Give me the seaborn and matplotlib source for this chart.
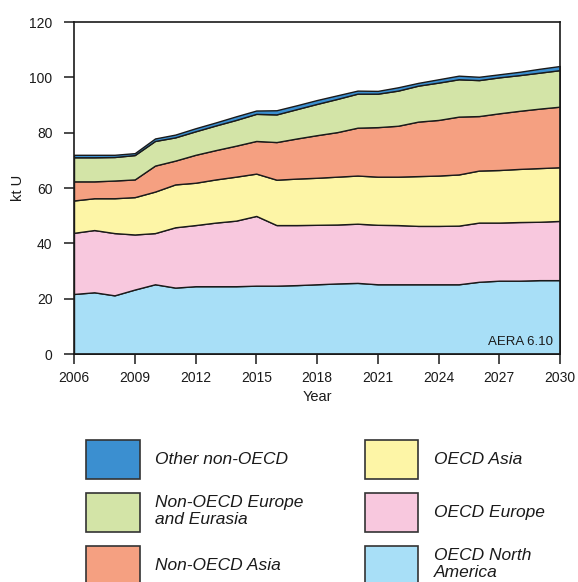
import matplotlib
matplotlib.use('Agg')
import matplotlib.pyplot as plt
from matplotlib.patches import Patch
import pandas as pd
import seaborn as sns

# Years on the x axis
years = list(range(2006, 2031))

# Requirements per region (kt U)
oecd_north_america = [21.7, 22.3, 21.2, 23.3, 25.2, 24.0, 24.5, 24.5, 24.5, 24.7,
                      24.7, 24.9, 25.2, 25.5, 25.7, 25.2, 25.2, 25.2, 25.2, 25.2,
                      26.1, 26.5, 26.5, 26.7, 26.7]
oecd_europe = [22.1, 22.5, 22.5, 19.9, 18.5, 21.8, 22.1, 23.0, 23.7, 25.2,
               21.9, 21.7, 21.5, 21.3, 21.4, 21.5, 21.4, 21.1, 21.1, 21.2,
               21.4, 21.0, 21.2, 21.1, 21.4]
oecd_asia = [11.7, 11.5, 12.6, 13.5, 15.0, 15.5, 15.3, 15.6, 15.9, 15.3,
             16.4, 16.8, 17.0, 17.3, 17.4, 17.4, 17.5, 18.0, 18.2, 18.5,
             18.8, 19.0, 19.2, 19.4, 19.4]
non_oecd_asia = [6.9, 6.1, 6.4, 6.4, 9.4, 8.6, 10.1, 10.6, 11.2, 11.8,
                 13.6, 14.5, 15.4, 16.1, 17.3, 17.9, 18.4, 19.7, 20.1, 20.9,
                 19.7, 20.5, 21.0, 21.5, 21.9]
non_oecd_europe = [8.7, 8.7, 8.5, 8.8, 8.9, 8.4, 8.5, 8.9, 9.3, 9.8,
                   10.0, 10.6, 11.3, 12.0, 12.3, 12.1, 12.7, 13.0, 13.5, 13.5,
                   13.0, 13.0, 12.9, 13.0, 13.2]
other_non_oecd = [0.9, 0.9, 0.8, 0.7, 0.9, 1.0, 1.1, 1.1, 1.3, 1.2,
                  1.5, 1.4, 1.4, 1.3, 1.1, 1.0, 1.2, 1.0, 1.2, 1.3,
                  1.2, 1.1, 1.2, 1.4, 1.5]

# stacking order, bottom to top
regions = ['OECD North America', 'OECD Europe', 'OECD Asia',
           'Non-OECD Asia', 'Non-OECD Europe and Eurasia', 'Other non-OECD']
colors = ['#a8dff7', '#f8c8de', '#fdf5a6', '#f5a081', '#d3e4a7', '#3b8fd0']

legend_order = ['Other non-OECD', 'Non-OECD Europe and Eurasia', 'Non-OECD Asia',
                'OECD Asia', 'OECD Europe', 'OECD North America']
legend_text = {
    'Other non-OECD': 'Other non-OECD',
    'Non-OECD Europe and Eurasia': 'Non-OECD Europe\nand Eurasia',
    'Non-OECD Asia': 'Non-OECD Asia',
    'OECD Asia': 'OECD Asia',
    'OECD Europe': 'OECD Europe',
    'OECD North America': 'OECD North\nAmerica',
}

df = pd.DataFrame({
    'Year': years,
    'OECD North America': oecd_north_america,
    'OECD Europe': oecd_europe,
    'OECD Asia': oecd_asia,
    'Non-OECD Asia': non_oecd_asia,
    'Non-OECD Europe and Eurasia': non_oecd_europe,
    'Other non-OECD': other_non_oecd,
})

sns.set_theme(style='ticks')
plt.rcParams['font.family'] = ['Liberation Sans', 'DejaVu Sans']
palette = dict(zip(regions, colors))

fig = plt.figure(figsize=(5.78, 5.82), dpi=100)
ax = fig.add_axes([74 / 578, 1 - 354 / 582, 486 / 578, 332 / 582])

ax.stackplot(df['Year'], *[df[r] for r in regions],
             colors=[palette[r] for r in regions],
             edgecolor='#1a1a1a', linewidth=1.0)

ax.set_xlim(2006, 2030)
ax.set_ylim(0, 120)
ax.set_xticks(range(2006, 2031, 3))
ax.set_yticks(range(0, 121, 20))
ax.tick_params(axis='both', direction='out', length=7.5, width=1.1,
               labelsize=10, pad=5, color='#1a1a1a', labelcolor='#1a1a1a')
ax.tick_params(axis='y', pad=8)
for s in ax.spines.values():
    s.set_linewidth(1.2)
    s.set_color('#1a1a1a')

ax.set_xlabel('Year', fontsize=10.5, labelpad=3, color='#1a1a1a')
ax.set_ylabel('kt U', fontsize=10.5, labelpad=3, color='#1a1a1a')

ax.text(0.985, 0.018, 'AERA 6.10', transform=ax.transAxes,
        ha='right', va='bottom', fontsize=9.5, color='#1a1a1a')

# legend: big swatches, two columns
handles = [Patch(facecolor=palette[r], edgecolor='#333333', linewidth=1.2)
           for r in legend_order]
labels = [legend_text[r] for r in legend_order]
fig.legend(handles, labels, ncol=2, loc='upper left',
           bbox_to_anchor=(86 / 578, 1 - 440 / 582),
           frameon=False, borderpad=0, borderaxespad=0,
           handlelength=3.1, handleheight=3.07, handletextpad=0.9,
           labelspacing=0.8, columnspacing=3.5,
           prop={'size': 12.5, 'style': 'italic'}, labelcolor='#1a1a1a')

fig.savefig('out.png', dpi=100)
